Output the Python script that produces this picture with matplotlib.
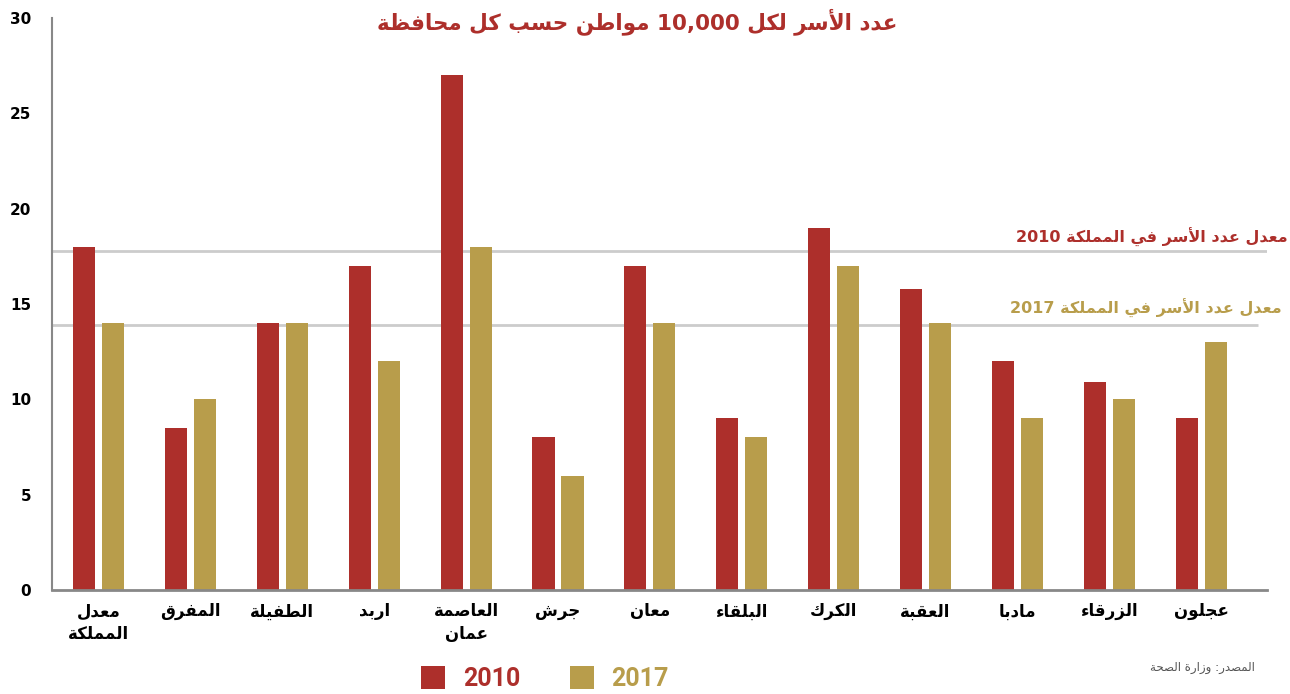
import re
import matplotlib
matplotlib.use("Agg")
import matplotlib.pyplot as plt
import numpy as np

# data
categories = ["معدل\nالمملكة", "المفرق", "الطفيلة", "اربد", "العاصمة\nعمان", "جرش", "معان",
              "البلقاء", "الكرك", "العقبة", "مادبا", "الزرقاء", "عجلون"]
values_2010 = [18, 8.5, 14, 17, 27, 8, 17, 9, 19, 15.8, 12, 10.9, 9]
values_2017 = [14, 10, 14, 12, 18, 6, 14, 8, 17, 14, 9, 10, 13]
series_names = ["2010", "2017"]
avg_2010 = 17.8
avg_2017 = 13.9
avg_labels = ["معدل عدد الأسر في المملكة 2010", "معدل عدد الأسر في المملكة 2017"]
title = "عدد الأسر لكل 10,000 مواطن حسب كل محافظة"
source = "المصدر: وزارة الصحة"
yticks = [0, 5, 10, 15, 20, 25, 30]

RED = "#ad2f2b"
GOLD = "#b89d4b"

# --- minimal arabic shaping (presentation forms) + visual reordering ---
FORMS = {
    "ء": (0xFE80, 1), "آ": (0xFE81, 2), "أ": (0xFE83, 2), "ؤ": (0xFE85, 2), "إ": (0xFE87, 2),
    "ئ": (0xFE89, 4), "ا": (0xFE8D, 2), "ب": (0xFE8F, 4), "ة": (0xFE93, 2), "ت": (0xFE95, 4),
    "ث": (0xFE99, 4), "ج": (0xFE9D, 4), "ح": (0xFEA1, 4), "خ": (0xFEA5, 4), "د": (0xFEA9, 2),
    "ذ": (0xFEAB, 2), "ر": (0xFEAD, 2), "ز": (0xFEAF, 2), "س": (0xFEB1, 4), "ش": (0xFEB5, 4),
    "ص": (0xFEB9, 4), "ض": (0xFEBD, 4), "ط": (0xFEC1, 4), "ظ": (0xFEC5, 4), "ع": (0xFEC9, 4),
    "غ": (0xFECD, 4), "ف": (0xFED1, 4), "ق": (0xFED5, 4), "ك": (0xFED9, 4), "ل": (0xFEDD, 4),
    "م": (0xFEE1, 4), "ن": (0xFEE5, 4), "ه": (0xFEE9, 4), "و": (0xFEED, 2), "ى": (0xFEEF, 2),
    "ي": (0xFEF1, 4),
}
LAM_ALEF = {"آ": 0xFEF5, "أ": 0xFEF7, "إ": 0xFEF9, "ا": 0xFEFB}


def shape_line(s):
    out = []
    i = 0
    n = len(s)
    while i < n:
        c = s[i]
        if c not in FORMS:
            out.append(c)
            i += 1
            continue
        prev = s[i - 1] if i > 0 else ""
        joins_prev = prev in FORMS and FORMS[prev][1] == 4
        if c == "ل" and i + 1 < n and s[i + 1] in LAM_ALEF:
            out.append(chr(LAM_ALEF[s[i + 1]] + (1 if joins_prev else 0)))
            i += 2
            continue
        base, k = FORMS[c]
        nxt = s[i + 1] if i + 1 < n else ""
        joins_next = k == 4 and nxt in FORMS and FORMS[nxt][1] > 1
        if k == 1:
            off = 0
        elif k == 2:
            off = 1 if joins_prev else 0
        else:
            off = {(True, True): 3, (True, False): 1, (False, True): 2, (False, False): 0}[(joins_prev, joins_next)]
        out.append(chr(base + off))
        i += 1
    vis = "".join(out)[::-1]
    return re.sub(r"[0-9][0-9,.]*", lambda m: m.group(0)[::-1], vis)


def ar(s):
    return "\n".join(shape_line(line) for line in s.split("\n"))


plt.rcParams["font.family"] = ["DejaVu Sans"]

fig = plt.figure(figsize=(12.9, 6.94), dpi=100)
ax = fig.add_axes([0.0403, 0.1499, 0.9419, 0.8241])

x = np.arange(len(categories))
w = 0.24
ax.hlines([avg_2010], -0.506, 12.715, color="#cccccc", lw=2, zorder=1)
ax.hlines([avg_2017], -0.506, 12.62, color="#cccccc", lw=2, zorder=1)
b1 = ax.bar(x - 0.158, values_2010, w, color=RED, zorder=2, label=series_names[0])
b2 = ax.bar(x + 0.158, values_2017, w, color=GOLD, zorder=2, label=series_names[1])

ax.set_xlim(-0.506, 12.715)
ax.set_ylim(0, 30)
ax.set_yticks(yticks)
ax.set_yticklabels([str(t) for t in yticks], fontsize=11, fontweight="bold")
ax.set_xticks(x)
ax.set_xticklabels([ar(c) for c in categories], fontsize=12, fontweight="bold", linespacing=1.3)
ax.tick_params(axis="both", length=0)
ax.tick_params(axis="y", pad=15)
ax.tick_params(axis="x", pad=9)
for s in ["top", "right"]:
    ax.spines[s].set_visible(False)
ax.spines["left"].set_color("#888888")
ax.spines["left"].set_linewidth(1.5)
ax.spines["bottom"].set_color("#888888")
ax.spines["bottom"].set_linewidth(2)

fig.text(0.494, 0.969, ar(title), ha="center", va="center", fontsize=15.5, fontweight="bold", color=RED)
fig.text(0.9985, 0.658, ar(avg_labels[0]), ha="right", va="center", fontsize=11.5, fontweight="bold", color=RED)
fig.text(0.9935, 0.556, ar(avg_labels[1]), ha="right", va="center", fontsize=11.5, fontweight="bold", color=GOLD)
fig.text(0.973, 0.038, ar(source), ha="right", va="center", fontsize=8.5, color="#555555")

leg = fig.legend(handles=[b1, b2], loc="center", bbox_to_anchor=(0.4225, 0.022), ncol=2, frameon=False,
                 handlelength=0.96, handleheight=1.05, handletextpad=0.7, columnspacing=2.0,
                 borderpad=0, borderaxespad=0,
                 prop={"family": ["Roboto", "DejaVu Sans"], "weight": "bold", "size": 18})
for t, col in zip(leg.get_texts(), [RED, GOLD]):
    t.set_color(col)

fig.savefig("out.png", dpi=100)
